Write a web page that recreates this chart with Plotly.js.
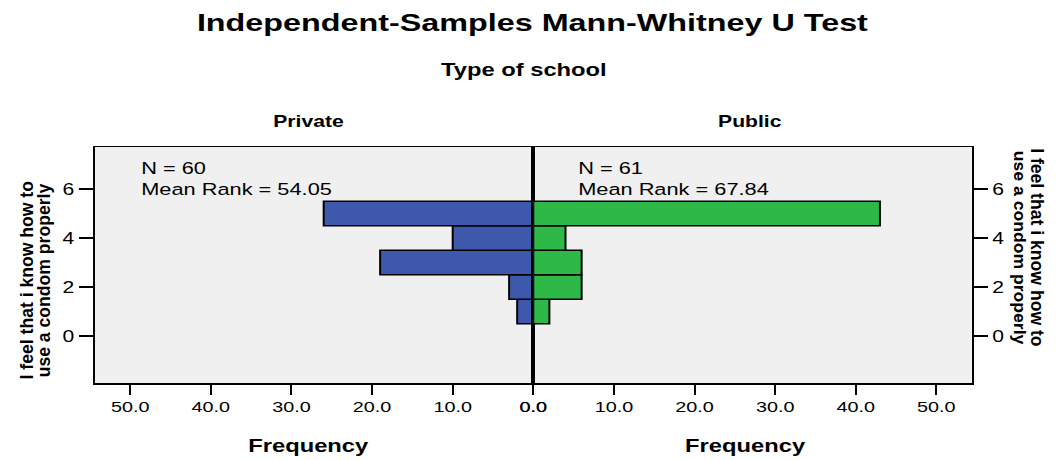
<!DOCTYPE html>
<html><head><meta charset="utf-8">
<script src="https://cdn.plot.ly/plotly-3.0.1.min.js"></script>
<style>
html,body{margin:0;padding:0;background:#fff;overflow:hidden;}
#wrap{width:1060px;height:460px;overflow:hidden;}
#chart{width:803px;height:460px;transform:scaleX(1.32);transform-origin:0 0;}
</style></head><body>
<div id="wrap"><div id="chart"></div></div>
<script>
// ---- data ----
const ratings = [1, 2, 3, 4, 5];
const privateCounts = [2, 3, 19, 10, 26];
const publicCounts = [2, 6, 6, 4, 43];
const groupNames = ['Private', 'Public'];
const groupN = [60, 61];
const meanRanks = ['54.05', '67.84'];
const xTickVals = [0, 10, 20, 30, 40, 50];
const xTickText = ['0.0', '10.0', '20.0', '30.0', '40.0', '50.0'];
const yTickVals = [0, 2, 4, 6];
const yTickText = ['0', '2', '4', '6'];
const yTitleLines = ['I feel that i know how to', 'use a condom properly'];
const chartTitle = 'Independent-Samples Mann-Whitney U Test';
const groupTitle = 'Type of school';
const xTitle = 'Frequency';

// ---- layout helpers ----
const S = 1.32, W = 803, H = 460;
const M = {l: 72, r: 67, t: 147, b: 77};
const PW = W - M.l - M.r, PH = H - M.t - M.b;
const px = xr => (xr / S - M.l) / PW;
const py = yr => (H - M.b - yr) / PH;
const FONT = '"Liberation Sans", Arial, Helvetica, sans-serif';
const XMAX = 54.36, YR = [-1.92, 7.71];

const axCommon = {
  ticks: 'outside', tickcolor: '#000', tickwidth: 1.5,
  showline: true, linecolor: '#000', linewidth: 1.5, mirror: true,
  showgrid: false, zeroline: false, fixedrange: true
};

const traces = [
  {type: 'bar', orientation: 'h', y: ratings, x: privateCounts, width: 1,
   xaxis: 'x', yaxis: 'y', name: groupNames[0],
   marker: {color: '#3E58AC', line: {color: '#000', width: 1.5}}, hoverinfo: 'skip'},
  {type: 'bar', orientation: 'h', y: ratings, x: publicCounts, width: 1,
   xaxis: 'x2', yaxis: 'y2', name: groupNames[1],
   marker: {color: '#2EB848', line: {color: '#000', width: 1.5}}, hoverinfo: 'skip'}
];

function ann(text, xr, yr, size, opts) {
  return Object.assign({
    text: text, xref: 'paper', yref: 'paper', x: px(xr), y: py(yr),
    xanchor: 'center', yanchor: 'middle', showarrow: false,
    font: {family: FONT, size: size, color: '#000'}
  }, opts || {});
}

const annotations = [
  ann('<b>' + chartTitle + '</b>', 533, 22, 24.5),
  ann('<b>' + groupTitle + '</b>', 524, 70, 18),
  ann('<b>' + groupNames[0] + '</b>', 308, 121, 16),
  ann('<b>' + groupNames[1] + '</b>', 750, 121, 16),
  ann('<b>' + xTitle + '</b>', 308.5, 446, 18),
  ann('<b>' + xTitle + '</b>', 745.5, 446, 18),
  ann('N = ' + groupN[0] + '<br>Mean Rank = ' + meanRanks[0], 139, 178, 16.5, {xanchor: 'left', align: 'left'}),
  ann('N = ' + groupN[1] + '<br>Mean Rank = ' + meanRanks[1], 576, 178, 16.5, {xanchor: 'left', align: 'left'})
];
// rotated axis titles (drawn unstretched)
const rotated = [
  [yTitleLines[0], 27, 280, -90],
  [yTitleLines[1], 44, 280, -90],
  [yTitleLines[0], 1038, 247.5, 90],
  [yTitleLines[1], 1020, 247.5, 90]
];
const rotStart = annotations.length;
rotated.forEach(r => annotations.push(ann('<b>' + r[0] + '</b>', r[1], r[2], 17.6, {textangle: r[3]})));

const layout = {
  width: W, height: H,
  margin: {l: M.l, r: M.r, t: M.t, b: M.b, pad: 0},
  paper_bgcolor: '#ffffff', plot_bgcolor: '#f0f0f0',
  showlegend: false, bargap: 0,
  font: {family: FONT, color: '#000'},
  xaxis: Object.assign({}, axCommon, {domain: [0, 0.5], range: [XMAX, 0], anchor: 'y',
    tickvals: xTickVals, ticktext: xTickText, ticklen: 10, tickfont: {size: 15}}),
  xaxis2: Object.assign({}, axCommon, {domain: [0.5, 1], range: [0, XMAX], anchor: 'y2',
    tickvals: xTickVals, ticktext: xTickText, ticklen: 10, tickfont: {size: 15}}),
  yaxis: Object.assign({}, axCommon, {domain: [0, 1], range: YR, anchor: 'x', side: 'left',
    tickvals: yTickVals, ticktext: yTickText, ticklen: 11, tickfont: {size: 16}}),
  yaxis2: Object.assign({}, axCommon, {domain: [0, 1], range: YR, anchor: 'x2', side: 'right',
    tickvals: yTickVals, ticktext: yTickText, ticklen: 11, tickfont: {size: 16}}),
  annotations: annotations
};

Plotly.newPlot('chart', traces, layout, {staticPlot: true, displayModeBar: false}).then(gd => {
  rotated.forEach((r, i) => {
    const g = gd.querySelector('g.annotation[data-index="' + (rotStart + i) + '"]');
    if (!g) return;
    const cx = r[1] / S;
    g.setAttribute('transform', 'translate(' + cx + ',0) scale(' + (1 / S) + ',1) translate(' + (-cx) + ',0)');
  });
});
</script>
</body></html>
